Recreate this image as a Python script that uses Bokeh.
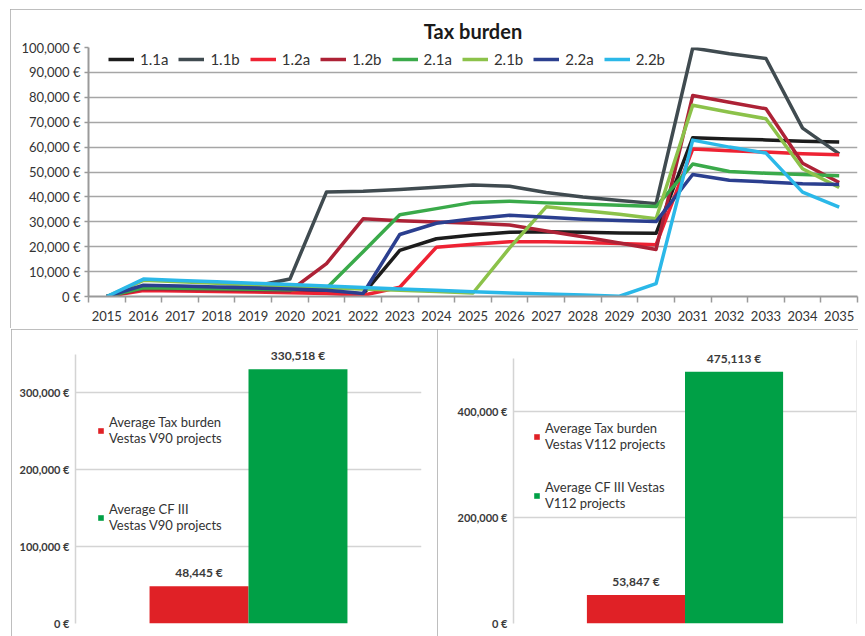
from bokeh.plotting import figure
from bokeh.models import (Range1d, FixedTicker, Legend, LegendItem, FactorRange,
                          ColumnDataSource, LabelSet)
from bokeh.layouts import column, row
from bokeh.transform import dodge
from bokeh.core.properties import value
from bokeh.embed import file_html
from bokeh.resources import INLINE

FONT = "Lato"

# ---------------- data ----------------
years = list(range(2015, 2036))
series_names = ["1.1a", "1.1b", "1.2a", "1.2b", "2.1a", "2.1b", "2.2a", "2.2b"]
s_11a = [0, 3800, 3500, 3200, 2800, 2400, 2000, 1000, 18500, 23200, 24700, 25800, 26000, 25800, 25500, 25400, 63800, 63300, 62900, 62300, 62000]
s_11b = [0, 3500, 3500, 3500, 4000, 7000, 42000, 42300, 43000, 43900, 44800, 44300, 41800, 40000, 38600, 37300, 99800, 97500, 95600, 67600, 57300]
s_12a = [0, 2400, 2200, 2000, 1800, 1500, 1200, 500, 3700, 19800, 21000, 22000, 22000, 21700, 21300, 20800, 59200, 58500, 58000, 57300, 56900]
s_12b = [0, 3000, 2800, 2600, 2400, 2200, 13200, 31200, 30400, 29900, 29400, 28700, 26300, 24000, 21500, 18900, 80700, 78000, 75400, 53500, 45800]
s_21a = [0, 3500, 3300, 3100, 2900, 2700, 3300, 18000, 32800, 35300, 37800, 38300, 37600, 37100, 36600, 36100, 53200, 50200, 49500, 49000, 48500]
s_21b = [0, 6500, 5900, 5300, 4700, 4100, 3500, 3000, 2500, 2000, 1400, 19500, 36000, 34500, 33000, 31200, 76800, 74000, 71400, 51300, 43800]
s_22a = [0, 4500, 4200, 3800, 3400, 3000, 2500, 1200, 24900, 29400, 31200, 32600, 31800, 31000, 30500, 30100, 49000, 46700, 46000, 45300, 45000]
s_22b = [0, 7000, 6400, 5900, 5300, 4800, 4200, 3600, 3000, 2500, 1900, 1400, 1000, 600, 100, 5200, 62800, 60000, 57600, 41900, 35900]
series_values = [s_11a, s_11b, s_12a, s_12b, s_21a, s_21b, s_22a, s_22b]
series_colors = ["#1c1c1c", "#404b50", "#ee2233", "#ad2236", "#3aaa4a", "#8cc24a", "#2b3f8f", "#2bb8e8"]

top_yticks = [0, 10000, 20000, 30000, 40000, 50000, 60000, 70000, 80000, 90000, 100000]
top_ylabels = ["0 €", "10,000 €", "20,000 €", "30,000 €", "40,000 €", "50,000 €",
               "60,000 €", "70,000 €", "80,000 €", "90,000 €", "100,000 €"]

v90_cat = ["V90"]
v90_labels = ["Average Tax burden\nVestas V90 projects", "Average CF III\nVestas V90 projects"]
v90_values = [48445, 330518]
v90_text = ["48,445 €", "330,518 €"]
v90_yticks = [0, 100000, 200000, 300000]
v90_ylabels = ["0 €", "100,000 €", "200,000 €", "300,000 €"]
v90_axis_max = 350000

v112_cat = ["V112"]
v112_labels = ["Average Tax burden\nVestas V112 projects", "Average CF III Vestas\nV112 projects"]
v112_values = [53847, 475113]
v112_text = ["53,847 €", "475,113 €"]
v112_yticks = [0, 200000, 400000]
v112_ylabels = ["0 €", "200,000 €", "400,000 €"]
v112_axis_max = 500000

bar_colors = ["#e02126", "#00a046"]

BORDER = {"outline": "2px solid #a9a9a9", "outline-offset": "-2px"}

# ---------------- top chart ----------------
p = figure(width=852, height=319, x_range=Range1d(2014.5, 2035.5),
           y_range=Range1d(0, 100000), output_backend="svg", toolbar_location=None,
           min_border_left=78, min_border_right=5, min_border_top=38, min_border_bottom=32,
           title="Tax burden", styles=BORDER, margin=(9, 0, 0, 10))
p.title.align = "center"
p.title.text_font = FONT
p.title.text_font_size = "20px"
p.title.text_font_style = "bold"
p.title.text_color = "#1a1a1a"
p.outline_line_color = None
p.xgrid.visible = False
p.ygrid.grid_line_color = "#a6a6a6"
p.ygrid.grid_line_width = 1.5
p.ygrid.ticker = FixedTicker(ticks=top_yticks)

p.yaxis.ticker = FixedTicker(ticks=top_yticks)
p.yaxis.major_label_overrides = {t: l for t, l in zip(top_yticks, top_ylabels)}
p.yaxis.axis_line_color = "#9a9a9a"
p.yaxis.axis_line_width = 2
p.yaxis.major_tick_line_color = "#9a9a9a"
p.yaxis.major_tick_line_width = 1.5
p.yaxis.major_tick_out = 4
p.yaxis.major_tick_in = 0
p.yaxis.minor_tick_line_color = None
p.yaxis.major_label_standoff = 4

bounds = [y - 0.5 for y in years] + [years[-1] + 0.5]
p.xaxis.ticker = FixedTicker(ticks=years, minor_ticks=bounds)
p.xaxis.major_label_overrides = {y: str(y) for y in years}
p.xaxis.axis_line_color = "#9a9a9a"
p.xaxis.axis_line_width = 2
p.xaxis.major_tick_line_color = None
p.xaxis.major_tick_out = 0
p.xaxis.minor_tick_line_color = "#9a9a9a"
p.xaxis.minor_tick_line_width = 1.5
p.xaxis.minor_tick_out = 6
p.xaxis.minor_tick_in = 0
p.xaxis.major_label_standoff = 8

for ax in (p.xaxis, p.yaxis):
    ax.major_label_text_font = FONT
    ax.major_label_text_font_size = "13px"
    ax.major_label_text_color = "#333333"

items = []
for name, vals, col in zip(series_names, series_values, series_colors):
    r = p.line(years, vals, line_color=col, line_width=3.5, line_join="round")
    items.append(LegendItem(label=name, renderers=[r]))

leg = Legend(items=items, orientation="horizontal", location=(20, 228),
             glyph_width=26, glyph_height=16, label_height=16, label_width=10,
             label_text_font=FONT, label_text_font_size="15px", label_text_color="#333333",
             spacing=10, padding=2, margin=0, label_standoff=6,
             background_fill_alpha=0, border_line_color=None)
p.add_layout(leg)


# ---------------- bottom charts ----------------
def bar_panel(cat, labels, values, texts, yticks, ylabels, axis_max, view_max, top,
              width, left, right, leg_loc, leg_spacing, margin):
    q = figure(width=width, height=307, x_range=FactorRange(factors=cat),
               y_range=Range1d(0, view_max), output_backend="svg", toolbar_location=None,
               min_border_left=left, min_border_right=right, min_border_top=top,
               min_border_bottom=13, styles=BORDER, margin=margin)
    q.outline_line_color = None
    q.xaxis.visible = False
    q.xgrid.visible = False
    q.ygrid.ticker = FixedTicker(ticks=yticks)
    q.ygrid.grid_line_color = "#d4d4d4"
    q.ygrid.grid_line_width = 1.5
    q.yaxis.ticker = FixedTicker(ticks=yticks)
    q.yaxis.bounds = (0, axis_max)
    q.yaxis.major_label_overrides = {t: l for t, l in zip(yticks, ylabels)}
    q.yaxis.axis_line_color = "#d4d4d4"
    q.yaxis.axis_line_width = 1.5
    q.yaxis.major_tick_line_color = None
    q.yaxis.minor_tick_line_color = None
    q.yaxis.major_tick_out = 0
    q.yaxis.major_label_standoff = 6
    q.yaxis.major_label_text_font = FONT
    q.yaxis.major_label_text_font_size = "11px"
    q.yaxis.major_label_text_font_style = "bold"
    q.yaxis.major_label_text_color = "#3a3a3a"

    offsets = [-0.143, 0.143]
    items = []
    for i in range(2):
        src = ColumnDataSource(dict(cat=cat, val=[values[i]], txt=[texts[i]]))
        r = q.vbar(x=dodge("cat", offsets[i], range=q.x_range), top="val", width=0.286,
                   source=src, fill_color=bar_colors[i], line_color=None)
        q.add_layout(LabelSet(x=dodge("cat", offsets[i], range=q.x_range), y="val",
                              text="txt", source=src, text_align="center",
                              text_baseline="bottom", y_offset=6,
                              text_font=value(FONT), text_font_size=value("12px"),
                              text_font_style=value("bold"), text_color="#3a3a3a"))
        items.append(LegendItem(label=labels[i], renderers=[r]))
    lg = Legend(items=items, location=leg_loc, glyph_width=7, glyph_height=7,
                label_height=16, label_text_font=FONT, label_text_font_size="13px",
                label_text_color="#333333", label_text_line_height=1.35,
                spacing=leg_spacing, padding=0, margin=0, label_standoff=5,
                background_fill_alpha=0, border_line_color=None)
    q.add_layout(lg)
    return q


q1 = bar_panel(v90_cat, v90_labels, v90_values, v90_text, v90_yticks, v90_ylabels,
               v90_axis_max, 368000, 9, 426, 64, 16, (22, 90), 55, (1, 0, 0, 11))
q2 = bar_panel(v112_cat, v112_labels, v112_values, v112_text, v112_yticks, v112_ylabels,
               v112_axis_max, 534000, 11, 421, 76, 2, (20, 112), 27, (1, 0, 0, 0))

layout = column(p, row(q1, q2))
open("out.html", "w").write(file_html(layout, INLINE))
